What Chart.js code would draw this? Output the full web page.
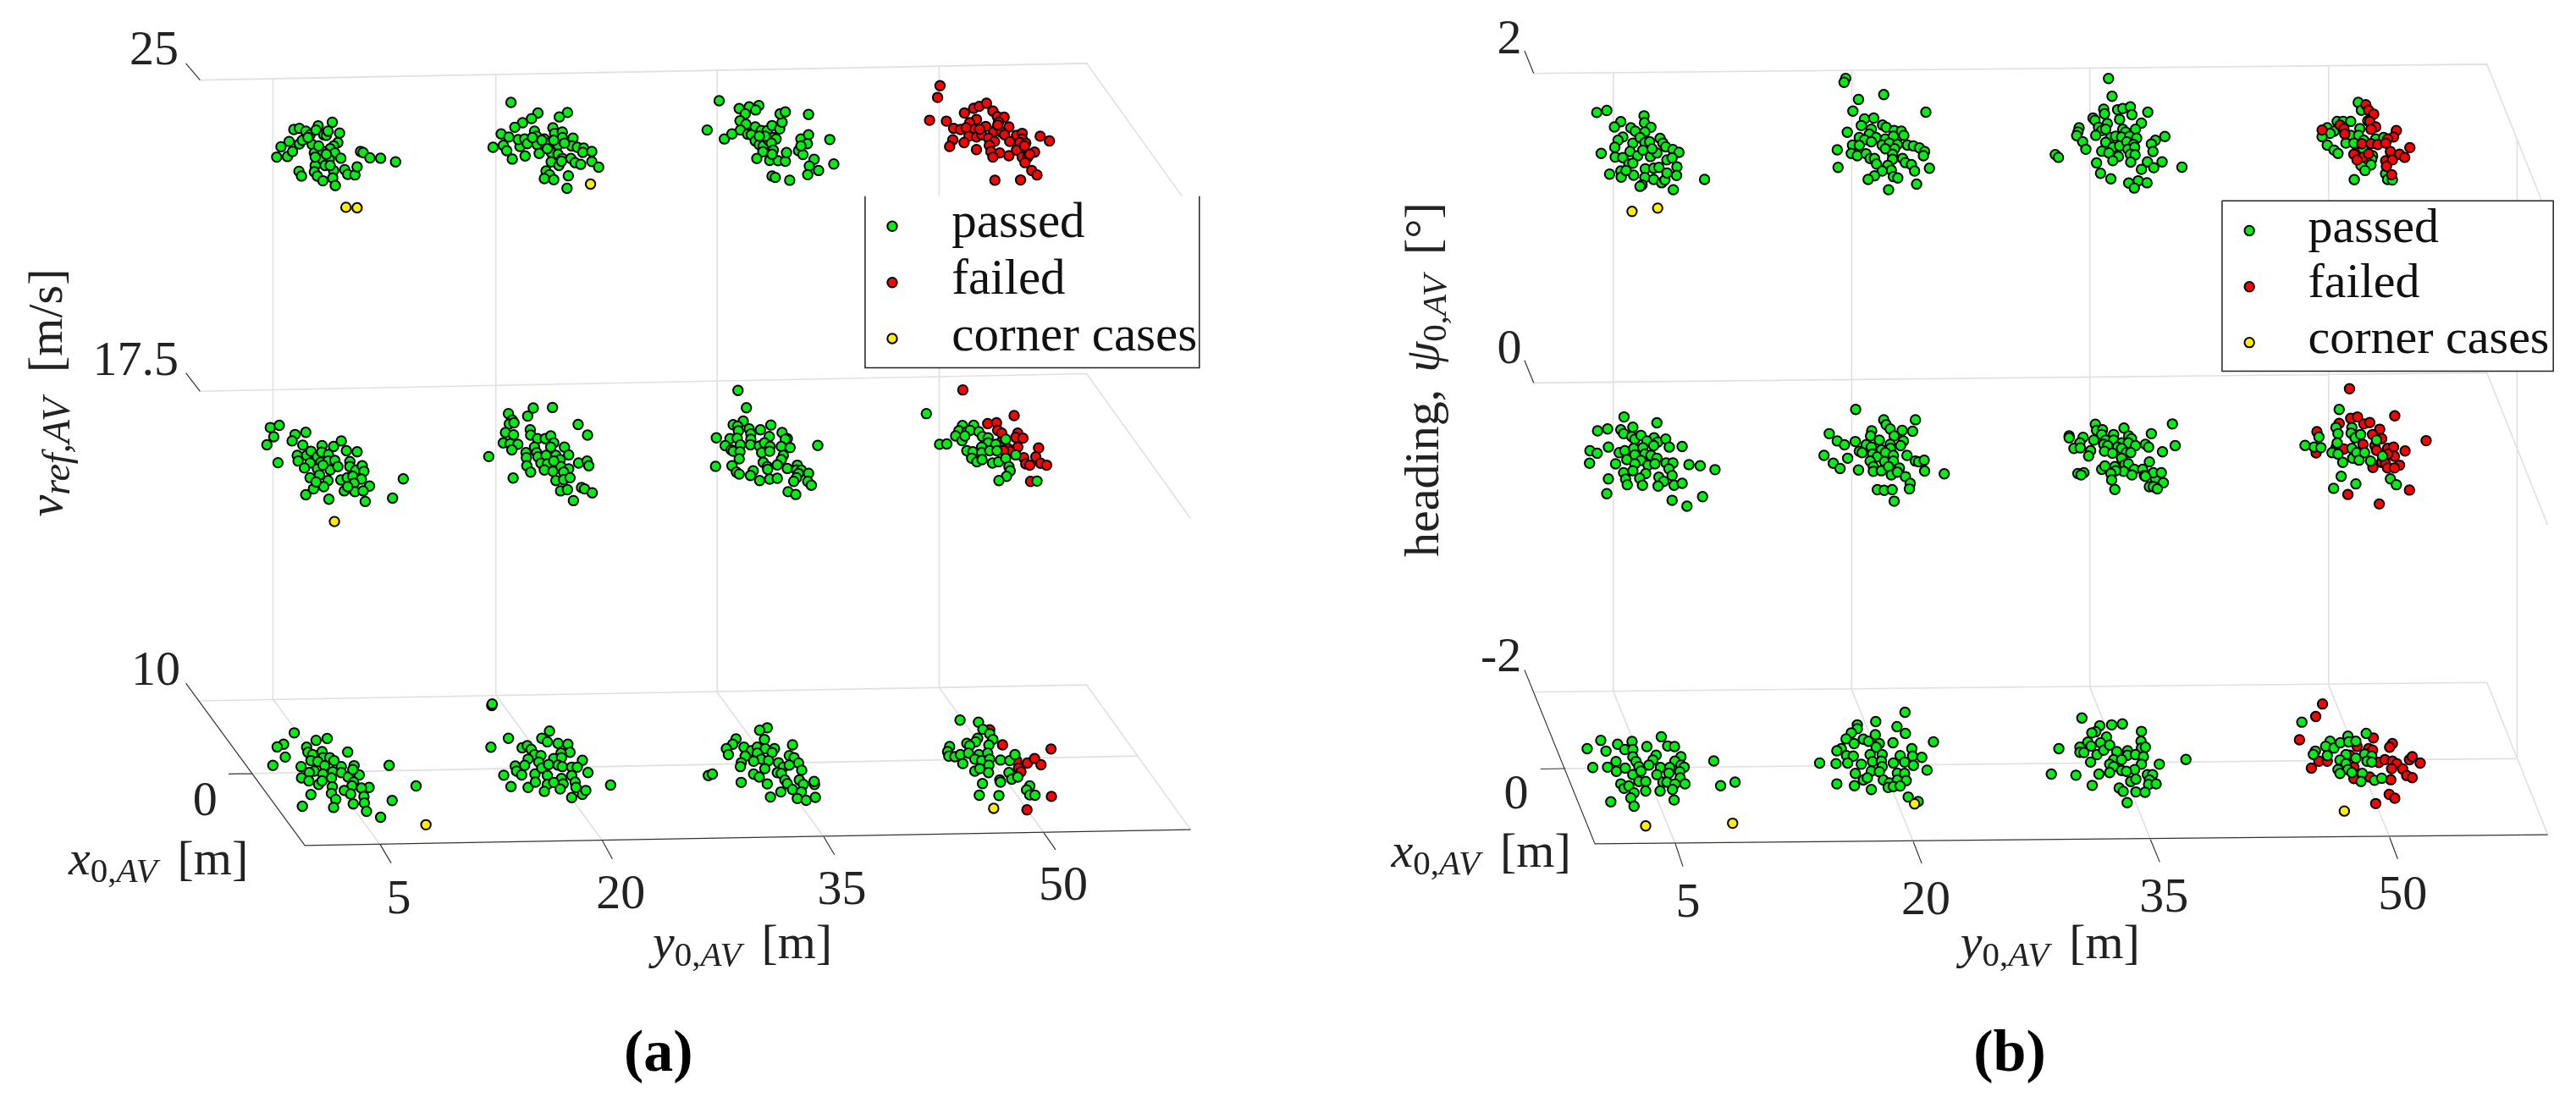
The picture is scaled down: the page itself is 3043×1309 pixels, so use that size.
<!DOCTYPE html>
<html>
<head>
<meta charset="utf-8">
<title>Scenario test results</title>
<script src="https://cdn.jsdelivr.net/npm/chart.js@4"></script>
<style>
  html, body { margin: 0; padding: 0; background: #fff; }
  #page { position: relative; width: 3043px; height: 1309px; overflow: hidden; }
  canvas { position: absolute; top: 0; }
</style>
</head>
<body>
<div id="page">
  <canvas id="chartA" width="1520" height="1309" style="left:0"></canvas>
  <canvas id="chartB" width="1523" height="1309" style="left:1520px"></canvas>
</div>
<script>
// Tick labels
const yTicks = ['5', '20', '35', '50'];
const xTicks = ['0'];
const zTicksA = ['25', '17.5', '10'];
const zTicksB = ['2', '0', '-2'];
const seriesNames = ['passed', 'failed', 'corner cases'];

// Each crop: [left, top, horizontal zoom, vertical zoom]
const c1 = [0, 0, 1.96, 3], c2 = [750, 0, 2.0907, 3];
const c3 = [0, 400, 1.96, 3], c4 = [750, 400, 2.0907, 3];
const c5 = [0, 750, 1.96, 2.805], c6 = [750, 750, 2.0907, 2.805];
const c7 = [1600, 0, 2.0907, 3], c8 = [2300, 0, 2.1104, 3];
const c9 = [1600, 400, 2.0907, 3], c10 = [2300, 400, 2.1104, 3];
const c11 = [1600, 750, 2.0907, 2.805], c12 = [2300, 750, 2.1104, 2.805];

// Panel (a)
const a_v25_y5_passed = [[632,540],[657,538],[642,503],[661,484],[669,520],[685,493],[672,441],[685,437],[700,447],[729,428],[762,415],[710,460],[724,443],[742,460],[748,462],[752,447],[779,454],[692,480],[715,495],[775,488],[765,500],[757,510],[720,525],[740,520],[768,525],[737,548],[755,548],[782,544],[745,570],[722,570],[765,588],[757,570],[684,591],[690,608],[720,593],[727,608],[740,625],[763,615],[769,642],[791,585],[798,602],[815,604],[820,575],[828,520],[834,524],[850,543],[875,544],[910,557],[730,500],[748,530],[722,540],[705,470]];
const a_v25_y5_corner = [[794,720],[820,722]];
const a_v25_y20_passed = [[1180,344],[1243,382],[1228,402],[1207,417],[1189,433],[1312,380],[1293,396],[1157,457],[1175,468],[1138,505],[1162,498],[1170,517],[1183,547],[1213,536],[1201,502],[1197,477],[1212,475],[1218,492],[1235,447],[1240,465],[1241,495],[1246,527],[1258,475],[1265,490],[1278,435],[1282,455],[1300,450],[1300,470],[1325,472],[1272,518],[1290,497],[1275,525],[1290,530],[1300,545],[1274,557],[1292,570],[1298,555],[1320,545],[1330,560],[1343,566],[1322,500],[1335,505],[1350,508],[1348,523],[1369,520],[1369,556],[1385,576],[1262,590],[1270,603],[1258,617],[1280,621],[1314,607],[1311,652],[1252,480],[1280,480],[1305,490],[1230,470],[1265,510]];
const a_v25_y20_corner = [[1366,637]];
const a_v25_y35_passed = [[210,338],[180,443],[223,475],[242,457],[260,366],[285,360],[309,355],[301,371],[275,385],[262,410],[277,422],[263,443],[281,458],[300,432],[290,460],[315,445],[330,445],[342,427],[361,439],[367,415],[362,385],[375,378],[433,387],[300,482],[310,495],[320,500],[333,480],[345,470],[352,475],[340,490],[345,515],[319,521],[304,545],[336,552],[357,553],[375,555],[378,524],[342,530],[408,517],[419,531],[414,475],[433,460],[430,492],[414,500],[486,477],[447,548],[435,572],[458,588],[431,603],[496,565],[342,608],[350,613],[386,623],[325,465],[310,465]];
const a_v25_y50_failed = [[761,284],[755,326],[735,408],[777,411],[822,382],[845,365],[859,358],[877,347],[893,375],[852,405],[904,395],[921,397],[907,415],[795,437],[812,441],[835,417],[826,435],[848,440],[875,430],[903,435],[933,432],[895,450],[914,450],[922,460],[952,462],[966,455],[966,475],[833,465],[852,468],[865,460],[882,472],[897,484],[935,484],[960,488],[975,490],[968,505],[793,478],[785,502],[821,488],[852,513],[884,498],[888,520],[910,525],[933,535],[893,540],[952,515],[966,540],[980,540],[997,522],[973,560],[1011,465],[1034,482],[990,588],[1003,604],[898,623],[962,622],[972,500],[985,530],[905,425],[860,440]];

const a_v17_y5_passed = [[617,310],[638,302],[625,343],[609,372],[675,335],[668,358],[700,327],[693,373],[635,436],[680,410],[682,430],[702,410],[712,395],[727,415],[738,375],[765,378],[783,358],[737,398],[753,407],[795,393],[820,397],[710,437],[735,435],[752,430],[768,428],[697,455],[727,458],[757,462],[775,450],[803,432],[803,450],[817,463],[832,447],[836,467],[710,490],[732,480],[752,500],[782,498],[797,490],[810,485],[830,495],[813,510],[849,520],[718,530],[742,522],[700,551],[754,567],[790,537],[815,540],[834,537],[839,575],[798,522],[903,563],[928,494],[724,505],[740,445]];
const a_v17_y5_corner = [[767,647]];
const a_v17_y20_passed = [[1128,414],[1174,260],[1183,283],[1176,297],[1187,293],[1219,269],[1232,240],[1277,238],[1337,299],[1359,337],[1167,328],[1186,336],[1162,365],[1178,368],[1196,370],[1182,390],[1225,318],[1226,337],[1242,350],[1260,350],[1273,340],[1280,365],[1273,380],[1305,380],[1235,380],[1215,400],[1216,418],[1240,400],[1243,415],[1262,410],[1285,410],[1315,408],[1217,447],[1226,470],[1250,438],[1265,440],[1258,462],[1278,467],[1295,425],[1297,450],[1315,458],[1303,470],[1338,437],[1358,430],[1362,447],[1185,491],[1285,500],[1303,497],[1318,490],[1296,537],[1312,533],[1345,525],[1352,530],[1370,544],[1326,572],[1280,430]];
const a_v17_y35_passed = [[257,177],[278,239],[270,287],[245,300],[256,305],[258,322],[285,315],[289,333],[313,318],[339,301],[367,328],[380,350],[375,352],[335,342],[203,347],[237,350],[255,348],[289,352],[225,375],[240,390],[263,372],[288,372],[310,376],[323,365],[337,378],[365,378],[387,382],[456,374],[245,395],[262,397],[316,400],[336,395],[370,410],[365,425],[260,422],[201,449],[242,447],[253,470],[260,477],[295,465],[288,482],[311,500],[336,495],[355,492],[320,435],[330,450],[331,460],[355,444],[380,457],[405,445],[403,462],[415,463],[433,474],[408,475],[403,490],[396,503],[431,503],[440,517],[382,540],[401,550]];
const a_v17_y50_passed = [[727,260],[760,370],[778,369],[817,303],[845,302],[808,322],[828,325],[836,320],[858,325],[800,340],[816,357],[823,340],[867,342],[881,347],[881,365],[900,370],[925,352],[828,393],[843,397],[865,380],[865,400],[885,393],[903,393],[840,420],[853,433],[866,425],[892,437],[907,433],[925,420],[950,408],[933,450],[936,465],[927,485],[908,500],[1003,502]];
const a_v17_y50_failed = [[818,175],[946,267],[880,296],[902,293],[905,320],[915,330],[955,330],[950,345],[968,348],[915,360],[1007,383],[955,380],[930,385],[935,395],[920,393],[970,418],[1000,415],[975,440],[985,445],[1012,438],[1027,445],[987,503]];

const a_v10_y5_passed = [[673,332],[648,370],[633,379],[652,413],[623,441],[724,357],[750,351],[798,396],[702,380],[705,397],[716,405],[738,395],[740,415],[712,425],[728,428],[756,415],[766,425],[689,445],[744,442],[783,445],[813,442],[720,460],[708,465],[690,483],[707,493],[740,470],[763,462],[783,465],[799,480],[825,473],[810,455],[760,483],[730,505],[738,493],[812,497],[808,510],[762,513],[848,515],[830,517],[790,525],[805,537],[836,545],[760,535],[770,555],[765,582],[712,539],[692,578],[811,570],[837,567],[842,595],[875,615],[902,559],[895,441],[958,510]];
const a_v10_y5_corner = [[981,640]];
const a_v10_y20_passed = [[1135,240],[1136,235],[1174,350],[1133,380],[1206,382],[1218,375],[1227,387],[1252,350],[1265,362],[1270,326],[1290,367],[1313,370],[1318,397],[1297,400],[1235,405],[1220,420],[1250,408],[1280,418],[1298,415],[1347,424],[1190,443],[1193,460],[1212,441],[1205,473],[1163,474],[1180,512],[1220,515],[1236,470],[1237,497],[1245,430],[1252,450],[1268,438],[1290,440],[1300,445],[1322,447],[1335,447],[1360,465],[1265,475],[1298,485],[1322,475],[1265,505],[1280,498],[1302,503],[1258,528],[1295,520],[1330,497],[1332,515],[1347,538],[1355,525],[1322,549],[1413,507]];
const a_v10_y35_passed = [[330,315],[311,323],[323,354],[393,372],[252,352],[244,370],[228,385],[233,405],[272,380],[290,392],[305,380],[325,385],[348,385],[342,398],[275,410],[305,400],[315,420],[296,427],[333,425],[358,432],[385,408],[397,415],[408,433],[265,432],[263,445],[370,447],[385,440],[416,457],[324,452],[296,470],[310,480],[355,465],[365,468],[183,475],[193,470],[265,498],[330,503],[374,490],[380,502],[393,522],[410,490],[420,505],[415,530],[448,505],[447,495],[338,547],[364,530],[405,552],[427,558],[450,548]];
const a_v10_y50_passed = [[811,289],[857,296],[868,320],[885,335],[855,350],[850,362],[893,354],[828,367],[835,375],[883,373],[785,378],[780,395],[783,410],[798,412],[812,405],[832,400],[858,405],[880,400],[818,435],[848,420],[865,425],[885,420],[912,423],[935,425],[948,405],[883,440],[882,465],[848,460],[860,452],[933,465],[940,487],[955,480],[910,490],[912,497],[867,502],[859,541],[908,542],[985,510],[977,523],[985,540],[998,541]];
const a_v10_y50_failed = [[885,322],[917,372],[1038,386],[952,425],[979,433],[997,418],[1013,439],[957,450],[963,462],[1039,545],[978,590]];
const a_v10_y50_corner = [[895,585]];

// Panel (b)
const b_h2_y5_passed = [[590,380],[615,373],[650,413],[634,432],[708,392],[709,417],[725,433],[675,435],[686,447],[710,450],[655,468],[643,480],[635,505],[601,527],[636,540],[655,542],[680,490],[698,470],[710,488],[722,485],[748,473],[755,490],[762,503],[780,513],[795,523],[673,520],[692,535],[705,515],[724,538],[740,525],[728,510],[765,550],[778,543],[670,565],[680,562],[711,582],[732,580],[745,577],[790,575],[622,601],[650,590],[651,612],[682,605],[663,588],[710,613],[732,620],[752,632],[760,622],[765,597],[789,606],[703,640],[698,645],[781,657],[859,620]];
const b_h2_y5_corner = [[678,735],[742,723]];
const b_h2_y20_passed = [[1211,258],[1207,272],[1306,316],[1243,333],[1229,375],[1411,379],[1258,403],[1281,400],[1250,427],[1303,425],[1312,433],[1215,451],[1275,440],[1270,458],[1332,445],[1350,447],[1356,462],[1245,470],[1258,478],[1287,470],[1275,485],[1310,475],[1330,465],[1228,497],[1245,498],[1190,514],[1225,527],[1240,535],[1262,528],[1302,497],[1320,490],[1340,495],[1365,497],[1380,500],[1395,507],[1408,520],[1405,535],[1310,510],[1333,510],[1328,530],[1328,548],[1272,545],[1283,545],[1288,565],[1353,545],[1360,560],[1375,567],[1383,590],[1192,577],[1420,580],[1316,570],[1325,587],[1302,590],[1283,607],[1267,620],[1330,610],[1341,615],[1388,637],[1318,657]];
const b_h2_y35_passed = [[407,258],[416,322],[395,368],[397,385],[430,370],[443,366],[462,360],[466,388],[506,379],[435,405],[368,400],[373,408],[404,420],[490,418],[333,435],[330,450],[327,463],[382,433],[390,445],[400,440],[375,462],[475,440],[342,485],[350,512],[412,470],[425,465],[443,440],[450,450],[440,468],[460,465],[478,472],[400,487],[418,505],[435,500],[453,485],[470,495],[525,480],[515,493],[549,466],[519,520],[390,519],[408,525],[432,538],[418,553],[456,512],[473,505],[462,530],[474,532],[463,558],[377,561],[505,557],[542,557],[490,584],[521,578],[592,576],[387,598],[413,618],[458,633],[482,625],[504,632],[472,651],[273,531],[281,541]];
const b_h2_y50_passed = [[1036,344],[1044,372],[983,412],[998,412],[1017,412],[958,435],[975,447],[965,455],[945,467],[958,497],[975,515],[985,527],[1060,410],[1040,438],[1017,462],[1037,462],[1005,490],[1025,490],[1050,480],[1080,475],[1100,470],[1030,525],[1048,510],[1072,535],[1070,548],[1043,570],[1068,568],[1053,588],[1026,621],[1105,600],[1110,620],[1122,622]];
const b_h2_y50_failed = [[1055,352],[1062,372],[1075,386],[1065,412],[1080,432],[1068,440],[945,443],[990,425],[1000,438],[1002,457],[1132,445],[1125,468],[1110,475],[1045,492],[1068,492],[1085,495],[1105,490],[1166,506],[1117,520],[1140,530],[1153,541],[1105,553],[1122,550],[1107,573],[1120,603],[1025,530],[1048,540],[1033,550],[1062,528]];

const b_h0_y5_passed = [[658,272],[740,293],[592,322],[617,315],[650,318],[657,332],[680,309],[677,342],[685,352],[700,338],[733,347],[715,358],[742,362],[762,351],[732,375],[771,380],[803,378],[619,380],[573,393],[591,402],[572,438],[646,400],[660,393],[682,385],[705,382],[685,408],[665,425],[710,405],[725,410],[700,428],[740,420],[637,440],[685,440],[718,445],[735,440],[763,437],[780,437],[820,443],[848,447],[885,461],[657,472],[680,465],[712,475],[770,458],[778,482],[619,494],[662,495],[697,492],[745,488],[757,503],[666,515],[704,517],[743,520],[783,517],[803,510],[615,547],[778,571],[815,592],[854,558]];
const b_h0_y20_passed = [[1236,245],[1385,282],[1306,282],[1312,300],[1322,315],[1352,320],[1378,323],[1170,332],[1276,322],[1273,340],[1332,340],[1190,358],[1208,372],[1235,360],[1355,358],[1295,355],[1262,372],[1275,380],[1322,370],[1348,375],[1245,395],[1252,400],[1300,390],[1323,385],[1157,410],[1216,420],[1278,405],[1290,415],[1310,400],[1330,410],[1364,410],[1180,438],[1272,430],[1308,432],[1330,430],[1385,430],[1393,433],[1407,427],[1197,457],[1243,462],[1280,450],[1280,467],[1300,465],[1318,450],[1345,455],[1408,466],[1457,476],[1325,480],[1340,470],[1360,486],[1372,510],[1370,530],[1290,533],[1307,535],[1327,533],[1332,574]];
const b_h0_y35_passed = [[568,297],[515,332],[575,375],[374,298],[377,320],[392,318],[390,335],[446,312],[343,345],[308,340],[308,347],[370,355],[335,365],[320,385],[336,383],[400,355],[420,335],[420,355],[440,365],[458,340],[465,350],[457,365],[475,375],[500,370],[508,380],[395,370],[405,375],[430,380],[440,385],[362,393],[357,412],[397,395],[417,402],[452,400],[463,400],[543,397],[440,420],[510,433],[330,475],[345,472],[338,480],[390,460],[398,448],[423,450],[448,443],[457,440],[445,467],[425,465],[413,475],[472,460],[466,480],[493,460],[497,482],[525,492],[520,472],[540,472],[415,498],[510,522],[520,522],[545,508],[530,530],[423,532],[500,485]];
const b_h0_y50_passed = [[988,245],[937,344],[902,374],[925,380],[942,382],[980,310],[985,332],[1020,310],[1018,330],[1028,347],[1042,335],[983,365],[1082,355],[970,400],[985,405],[997,435],[1020,385],[1022,420],[1032,400],[1038,427],[1052,400],[1067,430],[1097,412],[993,485],[1117,494],[1132,515],[974,528],[1030,512]];
const b_h0_y50_failed = [[1014,171],[1128,268],[1017,277],[1034,272],[1050,297],[1065,292],[1090,316],[1072,335],[988,295],[932,325],[1095,350],[1048,370],[1078,375],[1082,392],[980,382],[1000,387],[1110,385],[1125,380],[1154,394],[1207,357],[930,401],[1127,413],[1110,405],[1095,435],[1105,440],[1140,445],[1110,455],[1127,455],[1073,453],[1165,534],[1010,550],[1089,584]];

const b_hm2_y5_passed = [[566,385],[600,357],[642,370],[613,393],[660,388],[678,361],[680,388],[751,345],[715,378],[767,376],[784,378],[738,407],[680,412],[688,428],[730,423],[800,412],[785,427],[638,428],[580,448],[617,447],[639,461],[661,450],[695,445],[720,440],[749,448],[772,448],[800,440],[808,447],[680,472],[700,460],[740,472],[770,467],[797,462],[798,483],[695,495],[712,495],[755,497],[765,497],[785,503],[810,503],[650,503],[658,518],[670,510],[712,527],[748,527],[779,522],[683,533],[675,550],[625,563],[683,578],[783,557],[882,426],[935,497],[899,509]];
const b_hm2_y5_corner = [[712,644],[929,635]];
const b_hm2_y20_passed = [[1359,263],[1286,294],[1240,305],[1240,318],[1339,311],[1225,332],[1212,352],[1232,368],[1255,353],[1268,360],[1285,338],[1360,334],[1430,362],[1329,365],[1295,368],[1287,380],[1200,385],[1189,392],[1376,385],[1213,408],[1230,410],[1272,405],[1302,405],[1347,408],[1378,410],[1401,414],[1146,433],[1187,435],[1216,433],[1250,437],[1278,428],[1300,427],[1330,433],[1358,430],[1380,441],[1302,445],[1414,457],[1275,460],[1295,462],[1235,468],[1340,467],[1358,468],[1255,490],[1265,483],[1305,490],[1320,500],[1340,490],[1362,492],[1189,503],[1233,509],[1275,522],[1317,515],[1330,512],[1347,510],[1367,547],[1392,562]];
const b_hm2_y20_corner = [[1383,570]];
const b_hm2_y35_passed = [[340,282],[385,308],[415,305],[442,302],[490,327],[375,328],[365,332],[402,346],[489,360],[355,363],[387,365],[282,385],[335,380],[335,397],[363,376],[345,398],[378,405],[395,390],[410,373],[428,395],[455,392],[490,383],[500,380],[455,407],[475,405],[495,412],[420,422],[440,422],[362,430],[535,437],[602,421],[410,437],[420,445],[490,437],[473,455],[440,458],[452,461],[410,465],[263,470],[325,474],[383,470],[366,508],[463,495],[476,487],[505,472],[518,472],[510,490],[508,505],[527,503],[434,517],[444,528],[476,530],[499,531],[454,566]];
const b_hm2_y50_passed = [[894,296],[1010,343],[1056,334],[965,360],[954,377],[975,383],[991,365],[1012,362],[1030,360],[928,393],[923,404],[958,408],[1005,405],[990,423],[1030,417],[1052,403],[1070,410],[1058,427],[1070,430],[985,455],[1005,435],[1010,455],[990,468],[1020,465],[1046,468],[1043,495],[1077,491],[1095,484]];
const b_hm2_y50_failed = [[946,235],[929,277],[888,355],[1074,349],[1122,368],[1115,380],[1033,377],[1062,385],[1072,390],[1015,407],[937,427],[958,427],[918,450],[1088,431],[1103,422],[1122,427],[1133,435],[1120,452],[1165,422],[1172,412],[1192,433],[1148,453],[1158,475],[1172,482],[1118,489],[1025,485],[1065,480],[1114,538],[1128,551],[1080,569],[1025,447]];
const b_hm2_y50_corner = [[1001,594]];

// 3D box of each panel, as projected on the picture
const a_boxLight = [
  [[231,88],[1289,68],[1413,241]], [[231,460],[1289,439],[1413,612]], [[231,830],[1289,811],[1413,984]],
  [[318,87],[318,828],[446,1002]], [[584,82],[584,823],[711,997]], [[848,77],[848,820],[975,992]], [[1113,71],[1113,814],[1238,988]],
  [[293,917],[1350,896]]
];
const a_boxDark = [
  [[214,68],[231,88]], [[214,438],[231,460]], [[214,809],[356,1003],[1413,984]],
  [[446,1002],[459,1024]], [[711,997],[723,1019]], [[975,992],[988,1014]], [[1238,988],[1252,1008]],
  [[265,917.5],[293,917]]
];
const b_boxLight = [
  [[1807,80],[2944.5,69],[3017,250]], [[1807,450],[2944.5,438],[3017,620]], [[1807,819.5],[2944.5,808],[3017,990]],
  [[1902,79],[1902,819],[1976,1001]], [[2186.5,77],[2186.5,817],[2260,998.5]], [[2470.6,74],[2470.6,813.5],[2543,996]], [[2755.5,71.5],[2755.5,811],[2828.4,993.5]],
  [[2980.5,159],[2980.5,899],[1845,911]]
];
const b_boxDark = [
  [[1796,53],[1807,80]], [[1796,423],[1807,450]], [[1796,793],[1880,1001],[3017,990]],
  [[1976,1001],[1985,1028]], [[2260,998.5],[2270,1024.5]], [[2543,996],[2554,1022.7]], [[2828.4,993.5],[2838,1019]],
  [[1815,911.5],[1845,911]]
];

const GREEN = '#00ee11', RED = '#ff0000', YELLOW = '#ffee00';
const MARKER_RADIUS = 5.7;
const FONT = '"Liberation Serif", "DejaVu Serif", serif';
const MAIN = '58px ' + FONT, ITALIC = 'italic 58px ' + FONT;
const SUB = '41px ' + FONT, SUBI = 'italic 41px ' + FONT;

function fromCrop(list, crop) {
  return list.map(p => ({ x: crop[0] + p[0] / crop[2], y: crop[1] + p[1] / crop[3] }));
}

function gather(groups) {
  return groups.flatMap(g => fromCrop(g[0], g[1]));
}

function polylines(lines) {
  const out = [];
  lines.forEach(line => {
    line.forEach(p => out.push({ x: p[0], y: p[1] }));
    out.push({ x: NaN, y: NaN });
  });
  return out;
}

function pointSet(label, color, data) {
  return {
    label, data, showLine: false,
    backgroundColor: color, borderColor: '#000',
    pointRadius: MARKER_RADIUS, pointBorderWidth: 2, pointHoverRadius: MARKER_RADIUS
  };
}

function lineSet(lines, color, width) {
  return {
    data: polylines(lines), showLine: true, spanGaps: false,
    borderColor: color, borderWidth: width, pointRadius: 0, pointHoverRadius: 0
  };
}

// Text run helper: [text, font, drop below the baseline, gap after]
function drawRuns(ctx, runs, x, y) {
  let cx = x;
  runs.forEach(r => {
    ctx.font = r[1];
    if (r[0].trim()) ctx.fillText(r[0], cx, y + (r[2] || 0));
    cx += ctx.measureText(r[0]).width + (r[3] || 0);
  });
}

function overlayPlugin(spec) {
  return {
    id: 'overlay',
    afterDatasetsDraw(chart) {
      const ctx = chart.ctx, sx = chart.scales.x, sy = chart.scales.y;
      const px = v => sx.getPixelForValue(v), py = v => sy.getPixelForValue(v);
      ctx.save();
      ctx.textBaseline = 'alphabetic';

      // Legend box
      const b = spec.legend;
      ctx.fillStyle = '#fff';
      ctx.fillRect(px(b.left), py(b.top), px(b.right) - px(b.left), py(b.bottom) - py(b.top));
      ctx.strokeStyle = '#222';
      ctx.lineWidth = 1.5;
      ctx.beginPath();
      if (b.closed) {
        ctx.moveTo(px(b.left), py(b.top));
        ctx.lineTo(px(b.right), py(b.top));
        ctx.lineTo(px(b.right), py(b.bottom));
      } else {
        ctx.moveTo(px(b.right), py(b.top));
        ctx.lineTo(px(b.right), py(b.bottom));
      }
      ctx.lineTo(px(b.left), py(b.bottom));
      ctx.lineTo(px(b.left), py(b.top));
      ctx.stroke();
      [GREEN, RED, YELLOW].forEach((color, i) => {
        ctx.beginPath();
        ctx.arc(px(b.markerX), py(b.markerY[i]), MARKER_RADIUS, 0, Math.PI * 2);
        ctx.fillStyle = color;
        ctx.fill();
        ctx.lineWidth = 2;
        ctx.strokeStyle = '#000';
        ctx.stroke();
      });
      ctx.fillStyle = '#111';
      ctx.font = b.fontSize + 'px ' + FONT;
      ctx.textAlign = 'left';
      seriesNames.forEach((name, i) => ctx.fillText(name, px(b.textX), py(b.textY[i])));

      // Tick labels
      ctx.fillStyle = '#222';
      ctx.textAlign = 'center';
      spec.ticks.forEach(t => {
        ctx.font = MAIN;
        ctx.fillText(t.text, px(t.x), py(t.y) + 19);
      });

      // Axis labels
      ctx.textAlign = 'left';
      spec.labels.forEach(l => {
        if (l.rotate) {
          ctx.save();
          ctx.translate(px(l.x), py(l.y));
          ctx.rotate(-Math.PI / 2);
          drawRuns(ctx, l.runs, 0, 0);
          ctx.restore();
        } else {
          drawRuns(ctx, l.runs, px(l.x), py(l.y));
        }
      });

      // Panel caption
      ctx.fillStyle = '#000';
      ctx.textAlign = 'center';
      ctx.font = 'bold 70px ' + FONT;
      ctx.fillText(spec.caption.text, px(spec.caption.x), py(spec.caption.y));
      ctx.restore();
    }
  };
}

function makeChart(id, xMin, xMax, sets, spec) {
  return new Chart(document.getElementById(id), {
    type: 'scatter',
    data: { datasets: sets },
    options: {
      responsive: false,
      animation: false,
      layout: { padding: 0 },
      plugins: { legend: { display: false }, tooltip: { enabled: false } },
      scales: {
        x: { type: 'linear', display: false, min: xMin, max: xMax },
        y: { type: 'linear', display: false, min: 0, max: 1309, reverse: true }
      }
    },
    plugins: [overlayPlugin(spec)]
  });
}

const xAxisRuns = [['x', ITALIC], ['0,', SUB, 9], ['AV', SUBI, 9, 24], ['[m]', MAIN]];
const yAxisRuns = [['y', ITALIC], ['0,', SUB, 9], ['AV', SUBI, 9, 24], ['[m]', MAIN]];

// First dataset ends up on top
makeChart('chartA', 0, 1520, [
  pointSet(seriesNames[2], YELLOW, gather([[a_v25_y5_corner, c1], [a_v25_y20_corner, c1], [a_v17_y5_corner, c3], [a_v10_y5_corner, c5], [a_v10_y50_corner, c6]])),
  pointSet(seriesNames[0], GREEN, gather([[a_v25_y5_passed, c1], [a_v25_y20_passed, c1], [a_v25_y35_passed, c2], [a_v17_y5_passed, c3], [a_v17_y20_passed, c3], [a_v17_y35_passed, c4], [a_v17_y50_passed, c4], [a_v10_y5_passed, c5], [a_v10_y20_passed, c5], [a_v10_y35_passed, c6], [a_v10_y50_passed, c6]])),
  pointSet(seriesNames[1], RED, gather([[a_v25_y50_failed, c2], [a_v17_y50_failed, c4], [a_v10_y50_failed, c6]])),
  lineSet(a_boxDark, '#333', 1.2),
  lineSet(a_boxLight, '#e0e0e0', 1.6)
], {
  legend: { left: 1024.6, right: 1423.5, top: 226.7, bottom: 432, closed: false, fontSize: 59, markerX: 1057, markerY: [262.7, 330, 397], textX: 1128, textY: [275.7, 343, 411] },
  ticks: [
    { text: zTicksA[0], x: 176, y: 50 }, { text: zTicksA[1], x: 154, y: 421 }, { text: zTicksA[2], x: 178, y: 792 },
    { text: xTicks[0], x: 237, y: 947 },
    { text: yTicks[0], x: 468, y: 1065 }, { text: yTicks[1], x: 733, y: 1059 }, { text: yTicks[2], x: 997, y: 1054 }, { text: yTicks[3], x: 1261, y: 1049 }
  ],
  labels: [
    { x: 74, y: 1037, runs: xAxisRuns },
    { x: 771, y: 1138, runs: yAxisRuns },
    { x: 66, y: 610, rotate: true, runs: [['v', ITALIC], ['ref,AV', 'italic 46px ' + FONT, 9, 30], ['[m/s]', MAIN]] }
  ],
  caption: { text: '(a)', x: 778, y: 1272 }
});

// Failed cases of the top right cloud in (b) sit above the passed ones
makeChart('chartB', 1520, 3043, [
  pointSet(seriesNames[2], YELLOW, gather([[b_h2_y5_corner, c7], [b_hm2_y5_corner, c11], [b_hm2_y20_corner, c11], [b_hm2_y50_corner, c12]])),
  pointSet(seriesNames[1], RED, gather([[b_h2_y50_failed, c8]])),
  pointSet(seriesNames[0], GREEN, gather([[b_h2_y5_passed, c7], [b_h2_y20_passed, c7], [b_h2_y35_passed, c8], [b_h2_y50_passed, c8], [b_h0_y5_passed, c9], [b_h0_y20_passed, c9], [b_h0_y35_passed, c10], [b_h0_y50_passed, c10], [b_hm2_y5_passed, c11], [b_hm2_y20_passed, c11], [b_hm2_y35_passed, c12], [b_hm2_y50_passed, c12]])),
  pointSet(seriesNames[1], RED, gather([[b_h0_y50_failed, c10], [b_hm2_y50_failed, c12]])),
  lineSet(b_boxDark, '#333', 1.2),
  lineSet(b_boxLight, '#e0e0e0', 1.6)
], {
  legend: { left: 2628.4, right: 3023.7, top: 232.3, bottom: 436, closed: true, fontSize: 58, markerX: 2661, markerY: [268, 335, 401.7], textX: 2731, textY: [281.7, 347.7, 414] },
  ticks: [
    { text: zTicksB[0], x: 1778, y: 37 }, { text: zTicksB[1], x: 1778, y: 407 }, { text: zTicksB[2], x: 1768, y: 775 },
    { text: xTicks[0], x: 1786, y: 939 },
    { text: yTicks[0], x: 1991, y: 1069 }, { text: yTicks[1], x: 2275, y: 1066 }, { text: yTicks[2], x: 2559, y: 1063 }, { text: yTicks[3], x: 2844, y: 1060 }
  ],
  labels: [
    { x: 1637, y: 1028, runs: xAxisRuns },
    { x: 2316, y: 1138, runs: yAxisRuns },
    { x: 1693, y: 658, rotate: true, runs: [['heading,', MAIN, 0, 20], ['\u03c8', ITALIC], ['0,', SUB, 9], ['AV', SUBI, 9, 24], ['[\u00b0]', MAIN]] }
  ],
  caption: { text: '(b)', x: 2375, y: 1272 }
});
</script>
</body>
</html>
